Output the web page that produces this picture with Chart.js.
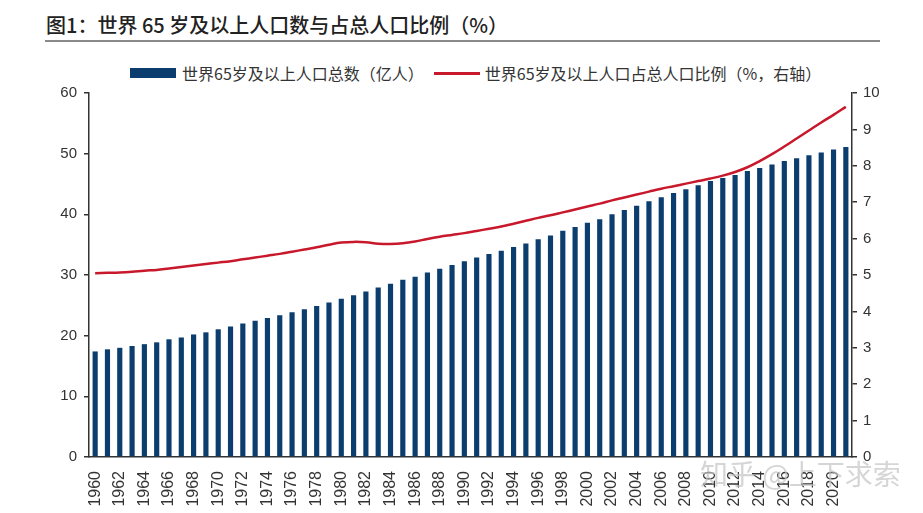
<!DOCTYPE html>
<html>
<head>
<meta charset="utf-8">
<script src="https://cdn.jsdelivr.net/npm/chart.js@4.4.1/dist/chart.umd.min.js"></script>
<style>
  body { margin: 0; background: #fff; font-family: "Noto Sans CJK SC", sans-serif; }
  .wrap { position: relative; width: 923px; height: 513px; overflow: hidden; }
  .title { position: absolute; left: 46px; top: 10px; font-size: 20px; font-weight: 500; color: #222; line-height: 30px; }
  .title-line { position: absolute; left: 45px; top: 40px; width: 835px; height: 2px; background: #8a8a8a; }
  .legend { position: absolute; top: 61px; left: 130px; font-size: 16px; color: #333; white-space: nowrap; display: flex; align-items: center; }
  .legend .box { display: inline-block; width: 46px; height: 10px; background: #0b3e6f; margin-right: 6px; }
  .legend .ln { display: inline-block; width: 46px; height: 3px; background: #c8182c; margin: 0 5px 0 10px; }
  canvas { position: absolute; left: 0; top: 0; }
</style>
</head>
<body>
<div class="wrap">
  <div class="title">图1：世界 65 岁及以上人口数与占总人口比例（%）</div>
  <div class="title-line"></div>
  <div class="legend">
    <span class="box"></span><span>世界65岁及以上人口总数（亿人）</span>
    <span class="ln"></span><span>世界65岁及以上人口占总人口比例（%，右轴）</span>
  </div>
  <canvas id="myChart" width="923" height="513"></canvas>
</div>
<script>
// years on the x axis
const years = [
    '1960','1961','1962','1963','1964','1965','1966','1967','1968','1969',
    '1970','1971','1972','1973','1974','1975','1976','1977','1978','1979',
    '1980','1981','1982','1983','1984','1985','1986','1987','1988','1989',
    '1990','1991','1992','1993','1994','1995','1996','1997','1998','1999',
    '2000','2001','2002','2003','2004','2005','2006','2007','2008','2009',
    '2010','2011','2012','2013','2014','2015','2016','2017','2018','2019',
    '2020','2021'
];

// 世界65岁及以上人口总数（亿人）
const population = [
    17.4, 17.75, 18.0, 18.3, 18.6, 18.9, 19.4, 19.7, 20.2, 20.55,
    21.05, 21.5, 22.0, 22.45, 22.9, 23.35, 23.85, 24.35, 24.9, 25.45,
    26.1, 26.65, 27.3, 27.95, 28.55, 29.2, 29.7, 30.4, 31.05, 31.65,
    32.25, 32.9, 33.45, 34.0, 34.6, 35.2, 35.9, 36.5, 37.3, 37.9,
    38.6, 39.2, 40.0, 40.7, 41.4, 42.15, 42.8, 43.5, 44.15, 44.8,
    45.5, 46.0, 46.5, 47.15, 47.65, 48.2, 48.8, 49.25, 49.75, 50.2,
    50.7, 51.1
];

// 世界65岁及以上人口占总人口比例（%）
const ratio = [
    5.05, 5.06, 5.07, 5.09, 5.12, 5.14, 5.18, 5.22, 5.26, 5.30,
    5.34, 5.38, 5.43, 5.48, 5.53, 5.58, 5.64, 5.70, 5.76, 5.83,
    5.89, 5.91, 5.90, 5.86, 5.85, 5.87, 5.92, 5.99, 6.05, 6.10,
    6.15, 6.21, 6.27, 6.33, 6.41, 6.49, 6.57, 6.64, 6.72, 6.80,
    6.88, 6.96, 7.05, 7.13, 7.21, 7.29, 7.37, 7.44, 7.51, 7.58,
    7.65, 7.73, 7.83, 7.96, 8.13, 8.32, 8.53, 8.75, 8.97, 9.19,
    9.40, 9.62
];

const leftTicks = [0, 10, 20, 30, 40, 50, 60];
const rightTicks = [0, 1, 2, 3, 4, 5, 6, 7, 8, 9, 10];

const axisColor = '#333333';
const tickFont = { family: "'Liberation Sans', Arial, sans-serif", size: 15 };

// watermark in the lower right corner
const watermark = {
    id: 'watermark',
    afterDraw(chart) {
        const c = chart.ctx;
        c.save();
        c.font = "28px 'Noto Sans CJK SC'";
        c.fillStyle = 'rgba(195,195,195,0.7)';
        c.textBaseline = 'middle';
        c.fillText('知乎 @上下求索', 700, 474);
        c.restore();
    }
};

const ctx = document.getElementById('myChart').getContext('2d');
const myChart = new Chart(ctx, {
    data: {
        labels: years,
        datasets: [
            {
                type: 'line',
                label: '世界65岁及以上人口占总人口比例（%，右轴）',
                data: ratio,
                yAxisID: 'y1',
                borderColor: '#c8182c',
                borderWidth: 2.5,
                pointRadius: 0,
                tension: 0.4,
                order: 0
            },
            {
                type: 'bar',
                label: '世界65岁及以上人口总数（亿人）',
                data: population,
                yAxisID: 'y',
                backgroundColor: '#0b3e6f',
                barPercentage: 0.42,
                categoryPercentage: 1,
                order: 1
            }
        ]
    },
    plugins: [watermark],
    options: {
        responsive: false,
        animation: false,
        layout: { padding: { top: 93, left: 0, right: 0, bottom: 0 } },
        plugins: {
            legend: { display: false },
            tooltip: { enabled: false }
        },
        scales: {
            x: {
                grid: { display: false },
                border: { display: true, color: axisColor, width: 1.5 },
                ticks: {
                    autoSkip: false,
                    maxRotation: 90,
                    minRotation: 90,
                    padding: 6,
                    color: axisColor,
                    font: { family: "'Liberation Sans', Arial, sans-serif", size: 16 },
                    callback: (val, i) => (i % 2 === 0 ? years[i] : '')
                },
                afterFit: (scale) => { scale.height = 56; }
            },
            y: {
                position: 'left',
                min: 0,
                max: 60,
                afterBuildTicks: (scale) => { scale.ticks = leftTicks.map(v => ({ value: v })); },
                grid: { drawOnChartArea: false, drawTicks: true, tickLength: 5, color: axisColor, lineWidth: 1.5 },
                border: { display: true, color: axisColor, width: 1.5 },
                ticks: { padding: 7, color: axisColor, font: tickFont },
                afterFit: (scale) => { scale.width = 89; }
            },
            y1: {
                position: 'right',
                min: 0,
                max: 10,
                afterBuildTicks: (scale) => { scale.ticks = rightTicks.map(v => ({ value: v })); },
                grid: { drawOnChartArea: false, drawTicks: true, tickLength: 5, color: axisColor, lineWidth: 1.5 },
                border: { display: true, color: axisColor, width: 1.5 },
                ticks: { padding: 6, color: axisColor, font: tickFont },
                afterFit: (scale) => { scale.width = 71; }
            }
        }
    }
});
</script>
</body>
</html>
